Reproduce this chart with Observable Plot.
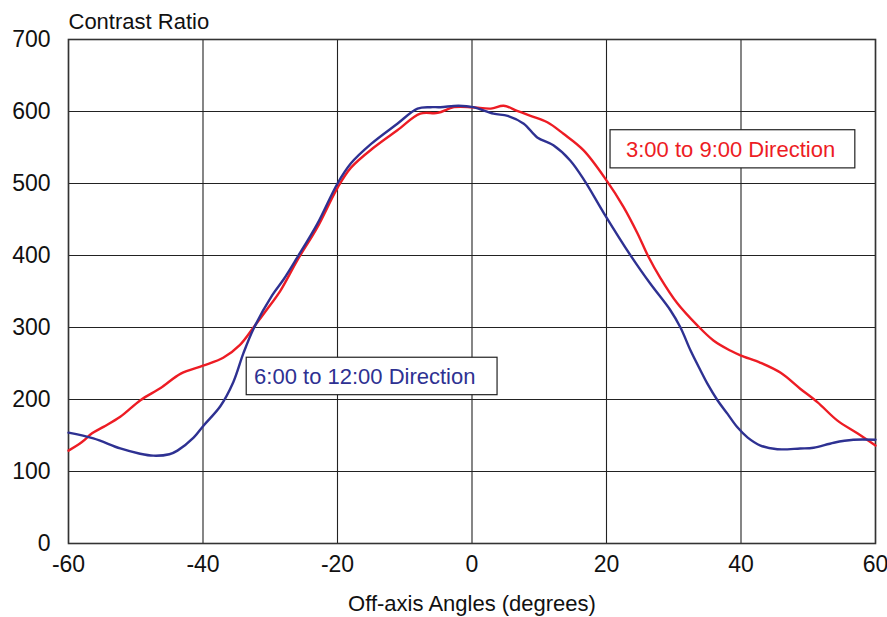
<!DOCTYPE html>
<html>
<head>
<meta charset="utf-8">
<script src="https://cdn.jsdelivr.net/npm/d3@7"></script>
<script src="https://cdn.jsdelivr.net/npm/@observablehq/plot@0.6"></script>
<style>
  html, body { margin: 0; padding: 0; background: #fff; }
  #chart { width: 887px; height: 617px; }
</style>
</head>
<body>
<div id="chart"></div>
<script>
// Off-axis angle (degrees) and contrast ratio, 3:00 to 9:00 direction
const redAngles = [-60, -58, -56.5, -54.8, -52.3, -49.3, -46.3, -43.3, -40, -37, -34.5, -32.5, -30.5, -28.5, -26, -23, -20, -18, -14.6, -11.1, -7.7, -5.1, -2.7, 0, 2.8, 4.7, 6.7, 8.7, 11.2, 13.6, 16.6, 20.1, 22.5, 24.6, 26.2, 28, 30.5, 33.5, 35.9, 38.4, 40, 42.9, 45.9, 48.8, 51.4, 54.3, 57.3, 60];
const redValues = [129, 141, 153, 162, 176, 199, 216, 236, 247, 258, 276, 300, 325, 351, 393, 439, 494, 522, 550, 574, 597, 598, 606, 606, 604, 608, 601, 594, 585, 569, 546, 503, 468, 431, 399, 369, 334, 303, 282, 268, 261, 251, 237, 215, 196, 171, 153, 136];

// 6:00 to 12:00 direction
const blueAngles = [-60, -56.3, -52.3, -49.5, -47.4, -45, -43.8, -41.4, -39.9, -37.4, -35.5, -34, -32.5, -29.7, -28, -26, -23, -20, -18, -15, -11.1, -8.1, -6.2, -4.7, -2, 0.2, 3.2, 5.3, 7.7, 9.7, 12.1, 14.6, 16.8, 19.6, 23.8, 26.5, 29.5, 31, 32.5, 34, 35, 36.5, 38, 39.5, 41, 42.9, 45.4, 48.8, 50.8, 53.8, 56.7, 60];
const blueValues = [154, 146, 132, 125, 122, 124, 129, 147, 164, 191, 224, 264, 298, 345, 367, 397, 444, 500, 528, 555, 583, 604, 606, 606, 608, 606, 597, 594, 583, 564, 553, 532, 503, 459, 397, 361, 324, 300, 268, 240, 222, 199, 180, 161, 147, 136, 131, 132, 133, 140, 144, 144];

const xTicks = [-60, -40, -20, 0, 20, 40, 60];
const yTicks = [0, 100, 200, 300, 400, 500, 600, 700];

const seriesNames = ["3:00 to 9:00 Direction", "6:00 to 12:00 Direction"];
const seriesColors = ["#ed1c24", "#2e3192"];
// label boxes (data units): x1, x2, y1, y2, text x, text y
const labelBoxX1 = [20.6, -33.5];
const labelBoxX2 = [57, 3.8];
const labelBoxY1 = [521, 206];
const labelBoxY2 = [574, 258];
const labelTextX = [22.9, -32.4];
const labelTextY = [547, 232];

const red = redAngles.map((a, i) => ({angle: a, value: redValues[i]}));
const blue = blueAngles.map((a, i) => ({angle: a, value: blueValues[i]}));
const labels = seriesNames.map((n, i) => ({
  name: n, color: seriesColors[i],
  x1: labelBoxX1[i], x2: labelBoxX2[i], y1: labelBoxY1[i], y2: labelBoxY2[i],
  tx: labelTextX[i], ty: labelTextY[i]
}));

const font = "'Liberation Sans', Arial, Helvetica, sans-serif";

const chart = Plot.plot({
  width: 887,
  height: 617,
  marginLeft: 68,
  marginRight: 12,
  marginTop: 39,
  marginBottom: 74,
  style: {fontFamily: font, background: "#fff", color: "#111"},
  x: {domain: [-60, 60], ticks: xTicks},
  y: {domain: [0, 700], ticks: yTicks},
  marks: [
    Plot.gridX(xTicks, {stroke: "#222", strokeOpacity: 1, strokeWidth: 1.1}),
    Plot.gridY(yTicks, {stroke: "#222", strokeOpacity: 1, strokeWidth: 1.1}),
    Plot.frame({stroke: "#333", strokeWidth: 1.6}),
    Plot.axisX(xTicks, {tickSize: 0, tickPadding: 12, fontSize: 23, label: null, fill: "#111", tickFormat: d => String(d)}),
    Plot.axisY(yTicks, {tickSize: 0, tickPadding: 18, fontSize: 23, label: null, fill: "#111", tickFormat: d => String(d)}),
    Plot.line(red, {x: "angle", y: "value", stroke: seriesColors[0], strokeWidth: 2.4, curve: "catmull-rom"}),
    Plot.line(blue, {x: "angle", y: "value", stroke: seriesColors[1], strokeWidth: 2.4, curve: "catmull-rom"}),
    Plot.rect(labels, {x1: "x1", x2: "x2", y1: "y1", y2: "y2", fill: "#fff", stroke: "#222", strokeWidth: 1.2}),
    Plot.text(labels, {x: "tx", y: "ty", text: "name", fill: "color", fontSize: 22, textAnchor: "start"}),
    Plot.text(["Contrast Ratio"], {frameAnchor: "top-left", textAnchor: "start", lineAnchor: "top", dy: -26, fontSize: 22, fill: "#111"}),
    Plot.text(["Off-axis Angles (degrees)"], {frameAnchor: "bottom", textAnchor: "middle", lineAnchor: "top", dy: 52, fontSize: 22, fill: "#111"})
  ]
});
document.getElementById("chart").appendChild(chart);
</script>
</body>
</html>
